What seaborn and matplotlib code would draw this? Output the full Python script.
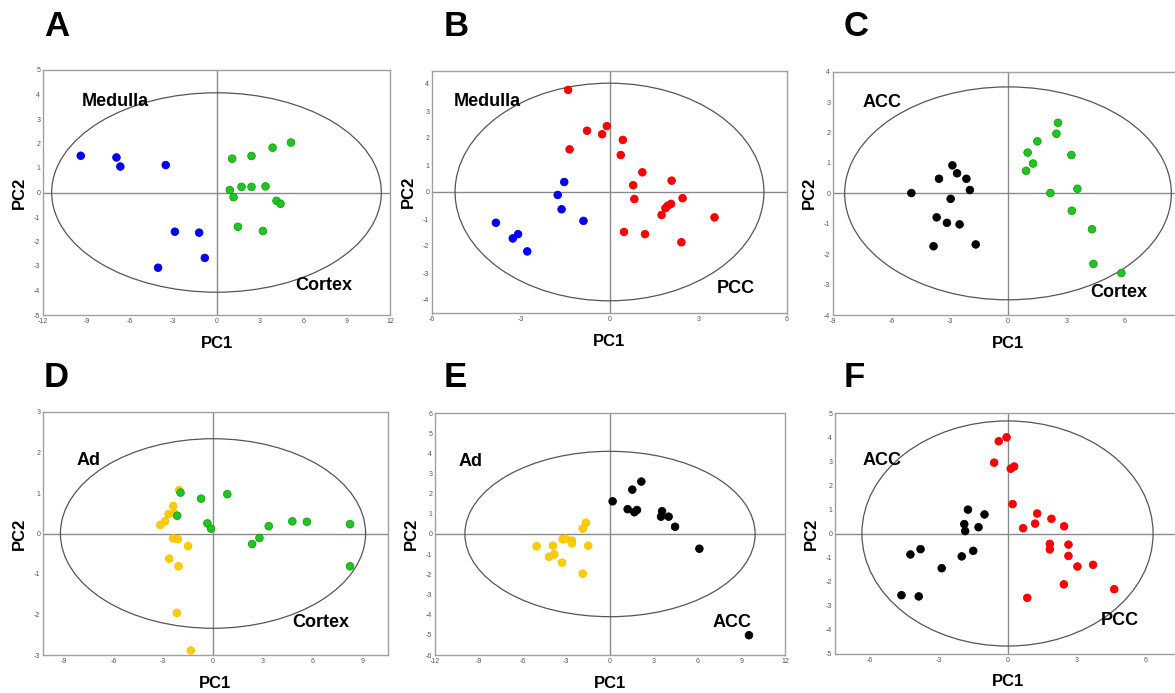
import numpy as np
import pandas as pd
import matplotlib
matplotlib.use("Agg")
import matplotlib.pyplot as plt
from matplotlib.patches import Ellipse
from matplotlib.ticker import MultipleLocator, FixedLocator
import seaborn as sns

# ---------------- data ----------------
# Panel A: Medulla vs Cortex
A_medulla_x = [-9.39, -6.92, -6.65, -3.51, -2.88, -1.20, -0.81, -4.04]
A_medulla_y = [1.50, 1.43, 1.06, 1.12, -1.60, -1.64, -2.67, -3.07]
A_cortex_x = [1.08, 2.42, 3.88, 5.15, 0.92, 1.73, 2.42, 3.39, 1.18, 4.15, 4.43, 1.48, 3.21]
A_cortex_y = [1.38, 1.49, 1.83, 2.04, 0.10, 0.23, 0.23, 0.25, -0.19, -0.34, -0.46, -1.40, -1.57]

# Panel B: Medulla vs PCC
B_medulla_x = [-1.53, -1.75, -1.62, -0.88, -3.84, -3.09, -3.27, -2.78]
B_medulla_y = [0.37, -0.11, -0.64, -1.07, -1.14, -1.56, -1.72, -2.20]
B_pcc_x = [-1.40, -0.76, -0.25, -0.09, -1.35, 0.45, 0.38, 1.11, 0.80, 2.10,
           0.84, 2.47, 2.08, 1.97, 1.89, 1.76, 3.55, 0.49, 1.20, 2.43]
B_pcc_y = [3.78, 2.27, 2.14, 2.44, 1.58, 1.93, 1.37, 0.73, 0.25, 0.42,
           -0.26, -0.23, -0.44, -0.51, -0.60, -0.85, -0.94, -1.48, -1.56, -1.86]

# Panel C: ACC vs Cortex
C_acc_x = [-4.97, -3.55, -2.86, -2.62, -2.14, -1.96, -2.95, -3.67, -3.14, -2.49, -3.83, -1.66]
C_acc_y = [0.01, 0.48, 0.92, 0.66, 0.48, 0.11, -0.18, -0.79, -0.97, -1.02, -1.74, -1.68]
C_cortex_x = [2.57, 2.49, 1.51, 1.01, 1.29, 0.93, 3.26, 3.57, 2.18, 3.28, 4.32, 4.39, 5.83]
C_cortex_y = [2.32, 1.96, 1.71, 1.34, 0.98, 0.74, 1.26, 0.15, 0.01, -0.57, -1.18, -2.32, -2.62]

# Panel D: Ad vs Cortex
D_ad_x = [-2.04, -2.40, -2.68, -2.34, -2.90, -3.18, -2.40, -2.12, -1.50, -2.64, -2.08, -2.18, -1.34]
D_ad_y = [1.07, 0.68, 0.48, 0.49, 0.30, 0.21, -0.12, -0.14, -0.31, -0.62, -0.81, -1.96, -2.89]
D_cortex_x = [-1.96, -2.16, -0.72, 0.86, -0.34, -0.12, 2.36, 2.80, 3.36, 4.78, 5.66, 8.26, 8.26]
D_cortex_y = [1.01, 0.44, 0.86, 0.97, 0.25, 0.12, -0.26, -0.11, 0.18, 0.30, 0.29, 0.23, -0.81]

# Panel E: Ad vs ACC
E_acc_x = [0.18, 1.21, 1.53, 2.15, 1.67, 1.85, 3.57, 3.50, 4.02, 4.46, 6.13, 9.53]
E_acc_y = [1.62, 1.23, 2.20, 2.60, 1.08, 1.19, 1.13, 0.86, 0.86, 0.36, -0.73, -5.02]
E_ad_x = [-1.65, -1.87, -3.25, -3.06, -2.61, -2.61, -1.49, -3.91, -5.03, -3.82, -4.18, -3.29, -1.87]
E_ad_y = [0.56, 0.26, -0.26, -0.23, -0.33, -0.46, -0.58, -0.58, -0.61, -1.01, -1.13, -1.42, -1.97]

# Panel F: ACC vs PCC
F_pcc_x = [-0.04, -0.38, -0.58, 0.14, 0.29, 0.22, 1.29, 1.91, 2.46, 1.20,
           0.68, 1.84, 1.84, 2.65, 2.65, 3.04, 3.72, 2.45, 4.64, 0.86]
F_pcc_y = [3.99, 3.83, 2.94, 2.69, 2.78, 1.22, 0.83, 0.61, 0.30, 0.41,
           0.22, -0.43, -0.66, -0.46, -0.93, -1.37, -1.30, -2.11, -2.31, -2.67]
F_acc_x = [-1.72, -1.00, -1.88, -1.84, -1.26, -1.49, -1.99, -2.86, -3.78, -4.22, -4.61, -3.86]
F_acc_y = [0.99, 0.79, 0.39, 0.10, 0.26, -0.72, -0.95, -1.44, -0.65, -0.87, -2.56, -2.61]

panel_letters = ["A", "B", "C", "D", "E", "F"]
# Hotelling ellipse semi-axes (PC1, PC2)
ellipse_a = [11.4, 5.22, 8.4, 9.2, 9.95, 6.33]
ellipse_b = [4.07, 4.03, 3.5, 2.34, 4.1, 4.67]
xlims = [(-12, 12), (-6, 6), (-9, 9), (-10.25, 10.55), (-12, 12), (-7.5, 7.5)]
ylims = [(-5, 5), (-4.5, 4.5), (-4, 4), (-3, 3), (-6, 6), (-5, 5)]
# x tick labels visible inside the picture
xticks = [[-12, -9, -6, -3, 0, 3, 6, 9, 12], [-6, -3, 0, 3, 6],
          [-9, -6, -3, 0, 3, 6], [-9, -6, -3, 0, 3, 6, 9],
          [-12, -9, -6, -3, 0, 3, 6, 9, 12], [-6, -3, 0, 3, 6]]

group_colors = {"Medulla": "#0000ff", "Cortex": "#22c422", "PCC": "#ff0000",
                "ACC": "#000000", "Ad": "#ffcc00"}
edge_colors = {"Medulla": "#0000dd", "Cortex": "#10a010", "PCC": "#ee0000",
               "ACC": "#000000", "Ad": "#f5c000"}

panels = [
    [("Medulla", A_medulla_x, A_medulla_y), ("Cortex", A_cortex_x, A_cortex_y)],
    [("Medulla", B_medulla_x, B_medulla_y), ("PCC", B_pcc_x, B_pcc_y)],
    [("ACC", C_acc_x, C_acc_y), ("Cortex", C_cortex_x, C_cortex_y)],
    [("Ad", D_ad_x, D_ad_y), ("Cortex", D_cortex_x, D_cortex_y)],
    [("Ad", E_ad_x, E_ad_y), ("ACC", E_acc_x, E_acc_y)],
    [("ACC", F_acc_x, F_acc_y), ("PCC", F_pcc_x, F_pcc_y)],
]
# group labels: (text, x, y) in data coords
group_labels = [
    [("Medulla", -9.35, 3.7), ("Cortex", 5.42, -3.8)],
    [("Medulla", -5.28, 3.35), ("PCC", 3.62, -3.59)],
    [("ACC", -7.5, 2.99), ("Cortex", 4.24, -3.26)],
    [("Ad", -8.24, 1.8), ("Cortex", 4.8, -2.2)],
    [("Ad", -10.4, 3.6), ("ACC", 7.04, -4.39)],
    [("ACC", -6.3, 3.04), ("PCC", 4.04, -3.63)],
]

# ---------------- layout ----------------
W, H = 1175, 693
sns.set_style("white")
plt.rcParams["font.family"] = ["Liberation Sans", "DejaVu Sans"]
plt.rcParams["axes.unicode_minus"] = False
plt.rcParams["text.color"] = "black"
plt.rcParams["axes.labelcolor"] = "black"

fig = plt.figure(figsize=(W / 100, H / 100), dpi=100)
fig.patch.set_facecolor("white")

# axes boxes in pixels: left, right, top, bottom
boxes = [(43, 390, 70, 315), (432, 787, 70.5, 313.5), (833, 1183, 71.7, 315),
         (43, 388, 412, 655), (435, 785, 413, 655), (835, 1180, 413, 654)]
letter_pos = [(44, 27), (444, 27), (844, 27), (44, 377), (444, 377), (844, 377)]

for i, (box, groups) in enumerate(zip(boxes, panels)):
    l, r, t, b = box
    ax = fig.add_axes([l / W, 1 - b / H, (r - l) / W, (b - t) / H])
    frames = []
    for name, xs, ys in groups:
        frames.append(pd.DataFrame({"PC1": xs, "PC2": ys, "group": name}))
    df = pd.concat(frames, ignore_index=True)
    order = [g[0] for g in groups]
    sns.scatterplot(data=df, x="PC1", y="PC2", hue="group", hue_order=order,
                    palette={g: group_colors[g] for g in order}, s=30,
                    edgecolor=[edge_colors[g] for g in df["group"]],
                    linewidth=0.6, legend=False, ax=ax, zorder=3)
    ax.set_xlim(*xlims[i])
    ax.set_ylim(*ylims[i])
    ax.axhline(0, color="#8a8a8a", lw=1.0, zorder=1)
    ax.axvline(0, color="#8a8a8a", lw=1.0, zorder=1)
    ax.add_patch(Ellipse((0, 0), 2 * ellipse_a[i], 2 * ellipse_b[i], fill=False,
                         edgecolor="#555555", lw=0.9, zorder=2))
    ax.xaxis.set_major_locator(FixedLocator(xticks[i]))
    ax.xaxis.set_minor_locator(MultipleLocator(1.5))
    ax.yaxis.set_major_locator(MultipleLocator(1))
    ax.yaxis.set_minor_locator(MultipleLocator(0.5))
    ax.tick_params(which="both", direction="in", length=2, width=0.6,
                   color="#444444", labelsize=5, labelcolor="#555555", pad=2)
    ax.tick_params(which="minor", length=1.5)
    for sp in ax.spines.values():
        sp.set_color("#a0a0a0")
        sp.set_linewidth(1.0)
    ax.set_xlabel("PC1", fontsize=12, fontweight="bold", color="black")
    ax.set_ylabel("PC2", fontsize=12, fontweight="bold", color="black")
    hpx, wpx = b - t, r - l
    ax.xaxis.set_label_coords(0.5, -28 / hpx)
    ax.xaxis.label.set_va("center")
    ax.yaxis.set_label_coords(-24 / wpx, 0.5)
    ax.yaxis.label.set_va("center")
    for txt, tx, ty in group_labels[i]:
        ax.text(tx, ty, txt, fontsize=13, fontweight="bold", ha="left",
                va="center", color="black", zorder=4)
    lx, ly = letter_pos[i]
    fig.text(lx / W, 1 - ly / H, panel_letters[i], fontsize=25,
             fontweight="bold", ha="left", va="center", color="black")

fig.savefig("out.png", dpi=100, facecolor="white")
